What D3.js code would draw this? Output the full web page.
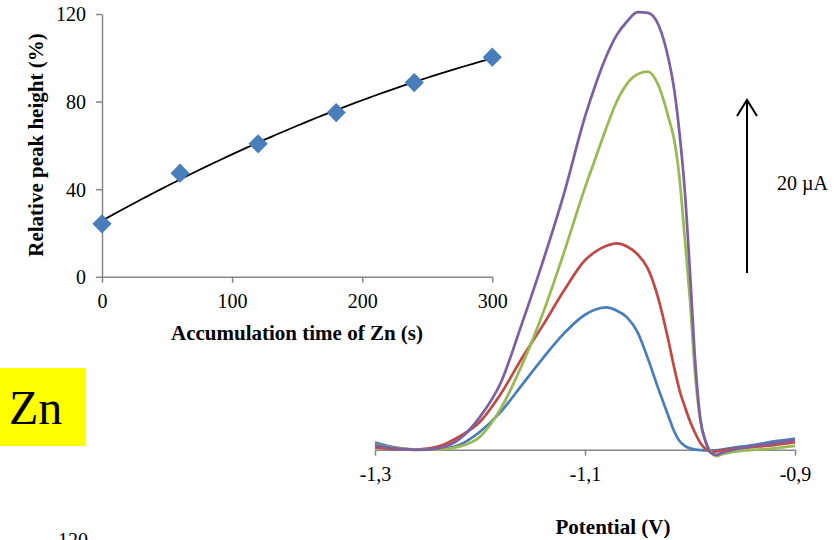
<!DOCTYPE html>
<html>
<head>
<meta charset="utf-8">
<script src="https://cdn.jsdelivr.net/npm/d3@7"></script>
<style>
  html, body { margin: 0; padding: 0; background: #fff; }
  svg { display: block; }
  text { font-family: "Liberation Serif", "Times New Roman", serif; fill: #000; }
</style>
</head>
<body>
<svg id="chart" width="834" height="540"></svg>
<script>
// ---------- Inset: relative peak height vs accumulation time ----------
const insetTime = [0, 60, 120, 180, 240, 300];
const insetHeight = [24.2, 47.3, 60.7, 75.0, 88.7, 100.3];
const insetXTicks = [0, 100, 200, 300];
const insetYTicks = [0, 40, 80, 120];

// ---------- Main voltammograms ----------
const potential = [-1.30, -1.28, -1.26, -1.24, -1.22, -1.20, -1.18, -1.16, -1.14, -1.12, -1.10, -1.09, -1.08, -1.07, -1.06, -1.05, -1.04, -1.03, -1.02, -1.015, -1.01, -1.005, -1.00, -0.995, -0.99, -0.985, -0.98, -0.975, -0.97, -0.96, -0.94, -0.92, -0.90];
const currentBlue   = [0.83, 0.25, 0.02, 0.05, 0.54, 2.08, 4.4, 7.5, 10.6, 13.45, 15.6, 16.2, 16.45, 16.1, 15.3, 13.6, 10.5, 7.0, 3.7, 2.1, 1.0, 0.45, 0.15, 0.02, -0.05, -0.09, -0.09, -0.07, 0.02, 0.2, 0.54, 0.95, 1.29];
const currentRed    = [0.25, 0.08, 0.0, 0.35, 1.5, 3.24, 6.5, 10.6, 14.4, 18.4, 21.9, 22.9, 23.55, 23.85, 23.5, 22.6, 20.9, 17.4, 12.3, 9.45, 6.9, 5.0, 3.3, 1.9, 0.75, 0.08, -0.27, -0.2, -0.09, 0.08, 0.31, 0.54, 0.86];
const currentGreen  = [0.6, 0.2, 0.0, 0.0, 0.35, 1.5, 4.8, 9.8, 15.8, 22.8, 30.3, 33.7, 37.1, 40.2, 42.3, 43.4, 43.7, 42.1, 38.2, 35.8, 31.4, 24.5, 17.3, 8.6, 3.3, 0.9, -0.27, -0.73, -0.55, -0.27, -0.03, 0.14, 0.43];
const currentPurple = [0.49, 0.14, -0.03, 0.16, 1.2, 3.8, 7.8, 14.6, 21.8, 29.6, 38.5, 42.2, 45.4, 47.9, 49.5, 50.6, 50.5, 49.1, 44.9, 41.6, 36.6, 30.0, 20.5, 10.1, 3.4, 0.9, -0.38, -0.61, -0.38, -0.03, 0.43, 0.77, 1.12];
const seriesColors = ["#4A7EBB", "#BE4B48", "#98B954", "#7D60A0"];
const potentialTicks = [-1.3, -1.1, -0.9];
const scaleBarValue = 20; // µA
const scaleBarLabel = "20 µA";

const svg = d3.select("#chart");
const axisColor = "#868686";

// ===== Main chart =====
const mx = d3.scaleLinear().domain([-1.3, -0.9]).range([375, 795]);
const my = d3.scaleLinear().domain([0, 50]).range([449.7, 449.7 - 50 * 8.65]);

const mainAxis = svg.append("g")
  .attr("transform", `translate(0,${my(0)})`)
  .call(d3.axisBottom(mx).tickValues(potentialTicks).tickSize(6).tickSizeOuter(0)
        .tickFormat(d => d3.format(".1f")(d).replace("−", "-").replace(".", ",")));
mainAxis.select(".domain").attr("stroke", axisColor).attr("stroke-width", 1.5);
mainAxis.selectAll(".tick line").attr("stroke", axisColor).attr("stroke-width", 1.5);
mainAxis.selectAll(".tick text").attr("font-size", 20).attr("dy", 0).attr("y", 31)
  .style("font-family", "'Liberation Serif', serif");

const line = d3.line().x(d => mx(d[0])).y(d => my(d[1])).curve(d3.curveMonotoneX);
[currentBlue, currentRed, currentGreen, currentPurple].forEach((vals, i) => {
  svg.append("path")
    .datum(potential.map((p, k) => [p, vals[k]]))
    .attr("fill", "none")
    .attr("stroke", seriesColors[i])
    .attr("stroke-width", 2.75)
    .attr("stroke-linejoin", "round")
    .attr("d", line);
});

svg.append("text").attr("x", 613).attr("y", 534).attr("text-anchor", "middle")
  .attr("font-size", 21).attr("font-weight", "bold").text("Potential (V)");

// scale bar arrow
const barX = 747, barBottom = 273;
const barTop = barBottom - (my(0) - my(scaleBarValue));
svg.append("line").attr("x1", barX).attr("x2", barX).attr("y1", barBottom).attr("y2", barTop + 1)
  .attr("stroke", "#000").attr("stroke-width", 2);
svg.append("path")
  .attr("d", `M${barX - 10},${barTop + 16} L${barX},${barTop} L${barX + 10},${barTop + 16}`)
  .attr("fill", "none").attr("stroke", "#000").attr("stroke-width", 2);
svg.append("text").attr("x", 777).attr("y", 190).attr("font-size", 20).text(scaleBarLabel);

// ===== Inset chart =====
const ix = d3.scaleLinear().domain([0, 300]).range([102, 492.3]);
const iy = d3.scaleLinear().domain([0, 120]).range([276.8, 14]);

const ixAxis = svg.append("g").attr("transform", `translate(0,${iy(0)})`)
  .call(d3.axisBottom(ix).tickValues(insetXTicks).tickSize(6).tickSizeOuter(0).tickFormat(d3.format("d")));
const iyAxis = svg.append("g").attr("transform", `translate(${ix(0)},0)`)
  .call(d3.axisLeft(iy).tickValues(insetYTicks).tickSize(6).tickSizeOuter(0).tickFormat(d3.format("d")));
[ixAxis, iyAxis].forEach(g => {
  g.select(".domain").attr("stroke", axisColor).attr("stroke-width", 1.5);
  g.selectAll(".tick line").attr("stroke", axisColor).attr("stroke-width", 1.5);
  g.selectAll(".tick text").attr("font-size", 20).style("font-family", "'Liberation Serif', serif");
});
ixAxis.selectAll(".tick text").attr("dy", 0).attr("y", 31);
iyAxis.selectAll(".tick text").attr("x", -16).attr("dy", "0.34em");

// polynomial (order 2) least-squares trendline, as in the source spreadsheet
function polyFit2(xs, ys) {
  let S = [0, 0, 0, 0, 0], T = [0, 0, 0];
  xs.forEach((x, i) => {
    for (let p = 0; p < 5; p++) S[p] += Math.pow(x, p);
    for (let p = 0; p < 3; p++) T[p] += Math.pow(x, p) * ys[i];
  });
  const A = [[S[0], S[1], S[2], T[0]], [S[1], S[2], S[3], T[1]], [S[2], S[3], S[4], T[2]]];
  for (let c = 0; c < 3; c++) {
    for (let r = c + 1; r < 3; r++) {
      const f = A[r][c] / A[c][c];
      for (let k = c; k < 4; k++) A[r][k] -= f * A[c][k];
    }
  }
  const sol = [0, 0, 0];
  for (let r = 2; r >= 0; r--) {
    let s = A[r][3];
    for (let k = r + 1; k < 3; k++) s -= A[r][k] * sol[k];
    sol[r] = s / A[r][r];
  }
  return sol;
}
const coef = polyFit2(insetTime, insetHeight);
const trend = d3.range(0, 300.001, 5).map(t => [t, coef[0] + coef[1] * t + coef[2] * t * t]);
svg.append("path").datum(trend)
  .attr("fill", "none").attr("stroke", "#000").attr("stroke-width", 1.8)
  .attr("d", d3.line().x(d => ix(d[0])).y(d => iy(d[1])));

svg.selectAll(".diamond").data(insetTime.map((t, i) => [t, insetHeight[i]]))
  .enter().append("path").attr("class", "diamond")
  .attr("d", d3.symbol().type(d3.symbolSquare).size(185))
  .attr("transform", d => `translate(${ix(d[0])},${iy(d[1])}) rotate(45)`)
  .attr("fill", "#4A7EBB");

svg.append("text").attr("x", 297).attr("y", 340).attr("text-anchor", "middle")
  .attr("font-size", 21).attr("font-weight", "bold").text("Accumulation time of Zn (s)");
svg.append("text").attr("transform", "translate(43,145) rotate(-90)").attr("text-anchor", "middle")
  .attr("font-size", 21).attr("font-weight", "bold").text("Relative peak height (%)");

// ===== Zn label =====
svg.append("rect").attr("x", 0).attr("y", 368).attr("width", 86).attr("height", 78).attr("fill", "#FFFF00");
svg.append("text").attr("x", 9).attr("y", 424).attr("font-size", 48).text("Zn");

// clipped label of a following chart at the bottom edge (as in the reference)
svg.append("text").attr("x", 73).attr("y", 547).attr("text-anchor", "middle").attr("font-size", 20).text("120");
</script>
</body>
</html>
